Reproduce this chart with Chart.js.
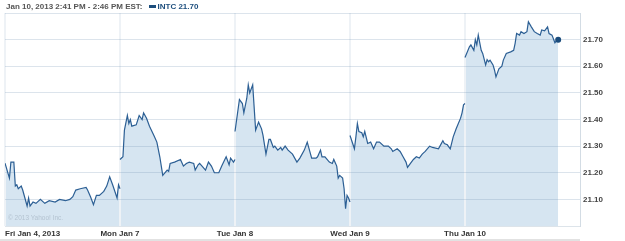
<!DOCTYPE html>
<html>
<head>
<meta charset="utf-8">
<script src="https://cdn.jsdelivr.net/npm/chart.js@4"></script>
<style>
  body { margin: 0; background: #fff; }
  #wrap { position: relative; width: 625px; height: 241px; overflow: hidden; }
  #chart { position: absolute; left: 0; top: 0; }
  #head { position: absolute; left: 6px; top: 2px; font: bold 8px "Liberation Sans", Arial, sans-serif; color: #555; white-space: nowrap; }
  #head .sw { display: inline-block; width: 7px; height: 3px; background: #1d4e7d; margin: 0 2px 1px 6px; vertical-align: middle; }
  #head .sym { color: #1d4e7d; }
  #copy { position: absolute; left: 8px; top: 214px; font: 6.5px "Liberation Sans", Arial, sans-serif; color: #b4c3d1; }
  #foot { position: absolute; left: 0; top: 239px; width: 580px; height: 2px; background: #e2e2e2; }
</style>
</head>
<body>
<div id="wrap">
  <canvas id="chart" width="625" height="241"></canvas>
  <div id="head">Jan 10, 2013 2:41 PM - 2:46 PM EST:<span class="sw"></span><span class="sym">INTC 21.70</span></div>
  <div id="copy">© 2013 Yahoo! Inc.</div>
  <div id="foot"></div>
</div>
<script>
// trading days shown on the x axis
const dayLabels = ["Fri Jan 4, 2013", "Mon Jan 7", "Tue Jan 8", "Wed Jan 9", "Thu Jan 10"];
const sessionMinutes = 390; // 9:30 - 16:00

// y axis
const yGridValues = [21.00, 21.10, 21.20, 21.30, 21.40, 21.50, 21.60, 21.70, 21.80];
const yTickLabels = ["21.10", "21.20", "21.30", "21.40", "21.50", "21.60", "21.70"];

// minutes after the open, and price, for each day
const friMinutes = [0, 15, 20, 30, 35, 40, 45, 55, 60, 75, 80, 85, 95, 105, 120, 135, 150, 170, 185, 205, 220, 230, 240, 255, 275, 280, 290, 300, 310, 320, 335, 345, 355, 365, 380, 385, 390];
const friPrices = [21.236, 21.18, 21.24, 21.24, 21.15, 21.155, 21.14, 21.15, 21.135, 21.075, 21.105, 21.075, 21.09, 21.085, 21.10, 21.085, 21.095, 21.09, 21.10, 21.095, 21.10, 21.11, 21.135, 21.14, 21.145, 21.135, 21.11, 21.08, 21.115, 21.115, 21.13, 21.15, 21.185, 21.155, 21.105, 21.155, 21.14];

const monMinutes = [0, 10, 15, 25, 30, 35, 40, 55, 65, 75, 80, 90, 100, 115, 125, 135, 145, 160, 165, 170, 185, 205, 215, 225, 235, 250, 255, 265, 270, 290, 300, 310, 320, 335, 345, 360, 370, 375, 385, 390];
const monPrices = [21.25, 21.26, 21.36, 21.415, 21.385, 21.40, 21.375, 21.38, 21.415, 21.40, 21.425, 21.405, 21.375, 21.34, 21.315, 21.26, 21.19, 21.21, 21.205, 21.235, 21.24, 21.25, 21.225, 21.235, 21.24, 21.235, 21.21, 21.23, 21.235, 21.21, 21.24, 21.225, 21.20, 21.20, 21.225, 21.26, 21.23, 21.255, 21.24, 21.25];

const tueMinutes = [0, 15, 25, 30, 40, 45, 50, 60, 70, 80, 90, 95, 105, 115, 120, 130, 135, 145, 155, 160, 170, 180, 195, 210, 220, 235, 245, 260, 275, 280, 290, 295, 305, 320, 330, 335, 345, 350, 355, 365, 370, 375, 380, 385, 390];
const tuePrices = [21.355, 21.475, 21.46, 21.425, 21.48, 21.53, 21.50, 21.53, 21.36, 21.39, 21.365, 21.34, 21.27, 21.325, 21.325, 21.295, 21.30, 21.285, 21.295, 21.285, 21.30, 21.285, 21.27, 21.24, 21.255, 21.285, 21.315, 21.255, 21.255, 21.26, 21.285, 21.26, 21.26, 21.24, 21.235, 21.25, 21.225, 21.18, 21.19, 21.18, 21.14, 21.065, 21.115, 21.105, 21.09];

const wedMinutes = [0, 15, 20, 25, 30, 40, 45, 50, 60, 70, 80, 90, 100, 115, 130, 140, 145, 160, 170, 180, 190, 195, 205, 215, 225, 235, 245, 255, 270, 280, 300, 305, 315, 320, 330, 340, 350, 360, 375, 380, 385, 390];
const wedPrices = [21.34, 21.29, 21.335, 21.385, 21.355, 21.35, 21.335, 21.355, 21.31, 21.315, 21.29, 21.315, 21.315, 21.30, 21.30, 21.29, 21.28, 21.29, 21.28, 21.26, 21.24, 21.22, 21.235, 21.25, 21.26, 21.255, 21.27, 21.28, 21.30, 21.295, 21.29, 21.30, 21.32, 21.31, 21.305, 21.29, 21.335, 21.365, 21.405, 21.425, 21.455, 21.46];

const thuMinutes = [0, 15, 20, 30, 35, 40, 45, 55, 60, 70, 75, 80, 85, 95, 100, 105, 115, 125, 130, 140, 155, 165, 170, 175, 185, 190, 200, 210, 215, 225, 235, 245, 255, 260, 270, 280, 285, 295, 305, 310, 316];
const thuPrices = [21.633, 21.673, 21.68, 21.66, 21.70, 21.68, 21.717, 21.66, 21.648, 21.605, 21.625, 21.617, 21.623, 21.605, 21.586, 21.56, 21.59, 21.60, 21.623, 21.648, 21.654, 21.66, 21.686, 21.723, 21.717, 21.73, 21.723, 21.73, 21.767, 21.748, 21.73, 21.723, 21.717, 21.736, 21.733, 21.748, 21.723, 21.717, 21.688, 21.695, 21.70];

const days = [
    [friMinutes, friPrices],
    [monMinutes, monPrices],
    [tueMinutes, tuePrices],
    [wedMinutes, wedPrices],
    [thuMinutes, thuPrices]
];

const datasets = days.map(([mins, prices], d) => ({
    data: mins.map((m, i) => ({ x: d * sessionMinutes + m, y: prices[i] })),
    borderColor: "#2c5f94",
    borderWidth: 1.2,
    backgroundColor: "#d6e5f1",
    fill: "start",
    tension: 0,
    pointRadius: ctx => (d === days.length - 1 && ctx.dataIndex === mins.length - 1) ? 3 : 0,
    pointBackgroundColor: "#1b4c7c",
    pointBorderWidth: 0
}));

// first day label sits at the left edge, the others are centred on their separators
const firstLabelLeft = {
    id: "firstLabelLeft",
    beforeDraw(chart) {
        const items = chart.scales.x.getLabelItems();
        if (items.length) items[0].options.textAlign = "left";
    }
};

const tickFont = { family: "Liberation Sans", size: 8, weight: "bold" };

new Chart(document.getElementById("chart"), {
    type: "line",
    data: { datasets },
    plugins: [firstLabelLeft],
    options: {
        responsive: false,
        animation: false,
        layout: { padding: { top: 13, left: 5, right: 0, bottom: 0 } },
        plugins: {
            legend: { display: false },
            tooltip: { enabled: false },
            filler: { drawTime: "beforeDraw" }
        },
        scales: {
            x: {
                type: "linear",
                position: "bottom",
                min: 0,
                max: sessionMinutes * dayLabels.length,
                afterBuildTicks: scale => {
                    scale.ticks = dayLabels.map((_, i) => ({ value: i * sessionMinutes }));
                },
                afterFit: scale => {
                    scale.paddingLeft = 0;
                    scale.paddingRight = 0;
                    scale.height = 15;
                },
                ticks: {
                    autoSkip: false,
                    maxRotation: 0,
                    padding: 3,
                    color: "#333",
                    font: tickFont,
                    callback: (v, i) => dayLabels[i]
                },
                grid: { color: "#eef2f6", lineWidth: 2, drawTicks: false },
                border: { display: true, color: "#dde4ea", width: 1 }
            },
            y: {
                type: "linear",
                position: "right",
                min: 21.0,
                max: 21.8,
                afterBuildTicks: scale => {
                    scale.ticks = yGridValues.map(v => ({ value: v }));
                },
                afterFit: scale => {
                    scale.paddingTop = 0;
                    scale.paddingBottom = 0;
                    scale.width = 45;
                },
                ticks: {
                    padding: 3,
                    color: "#444",
                    font: tickFont,
                    callback: v => {
                        const s = v.toFixed(2);
                        return yTickLabels.includes(s) ? s : "";
                    }
                },
                grid: { color: "rgba(120,150,180,0.26)", lineWidth: 1, drawTicks: false },
                border: { display: true, color: "#d3dce4", width: 1 }
            }
        }
    }
});
</script>
</body>
</html>
